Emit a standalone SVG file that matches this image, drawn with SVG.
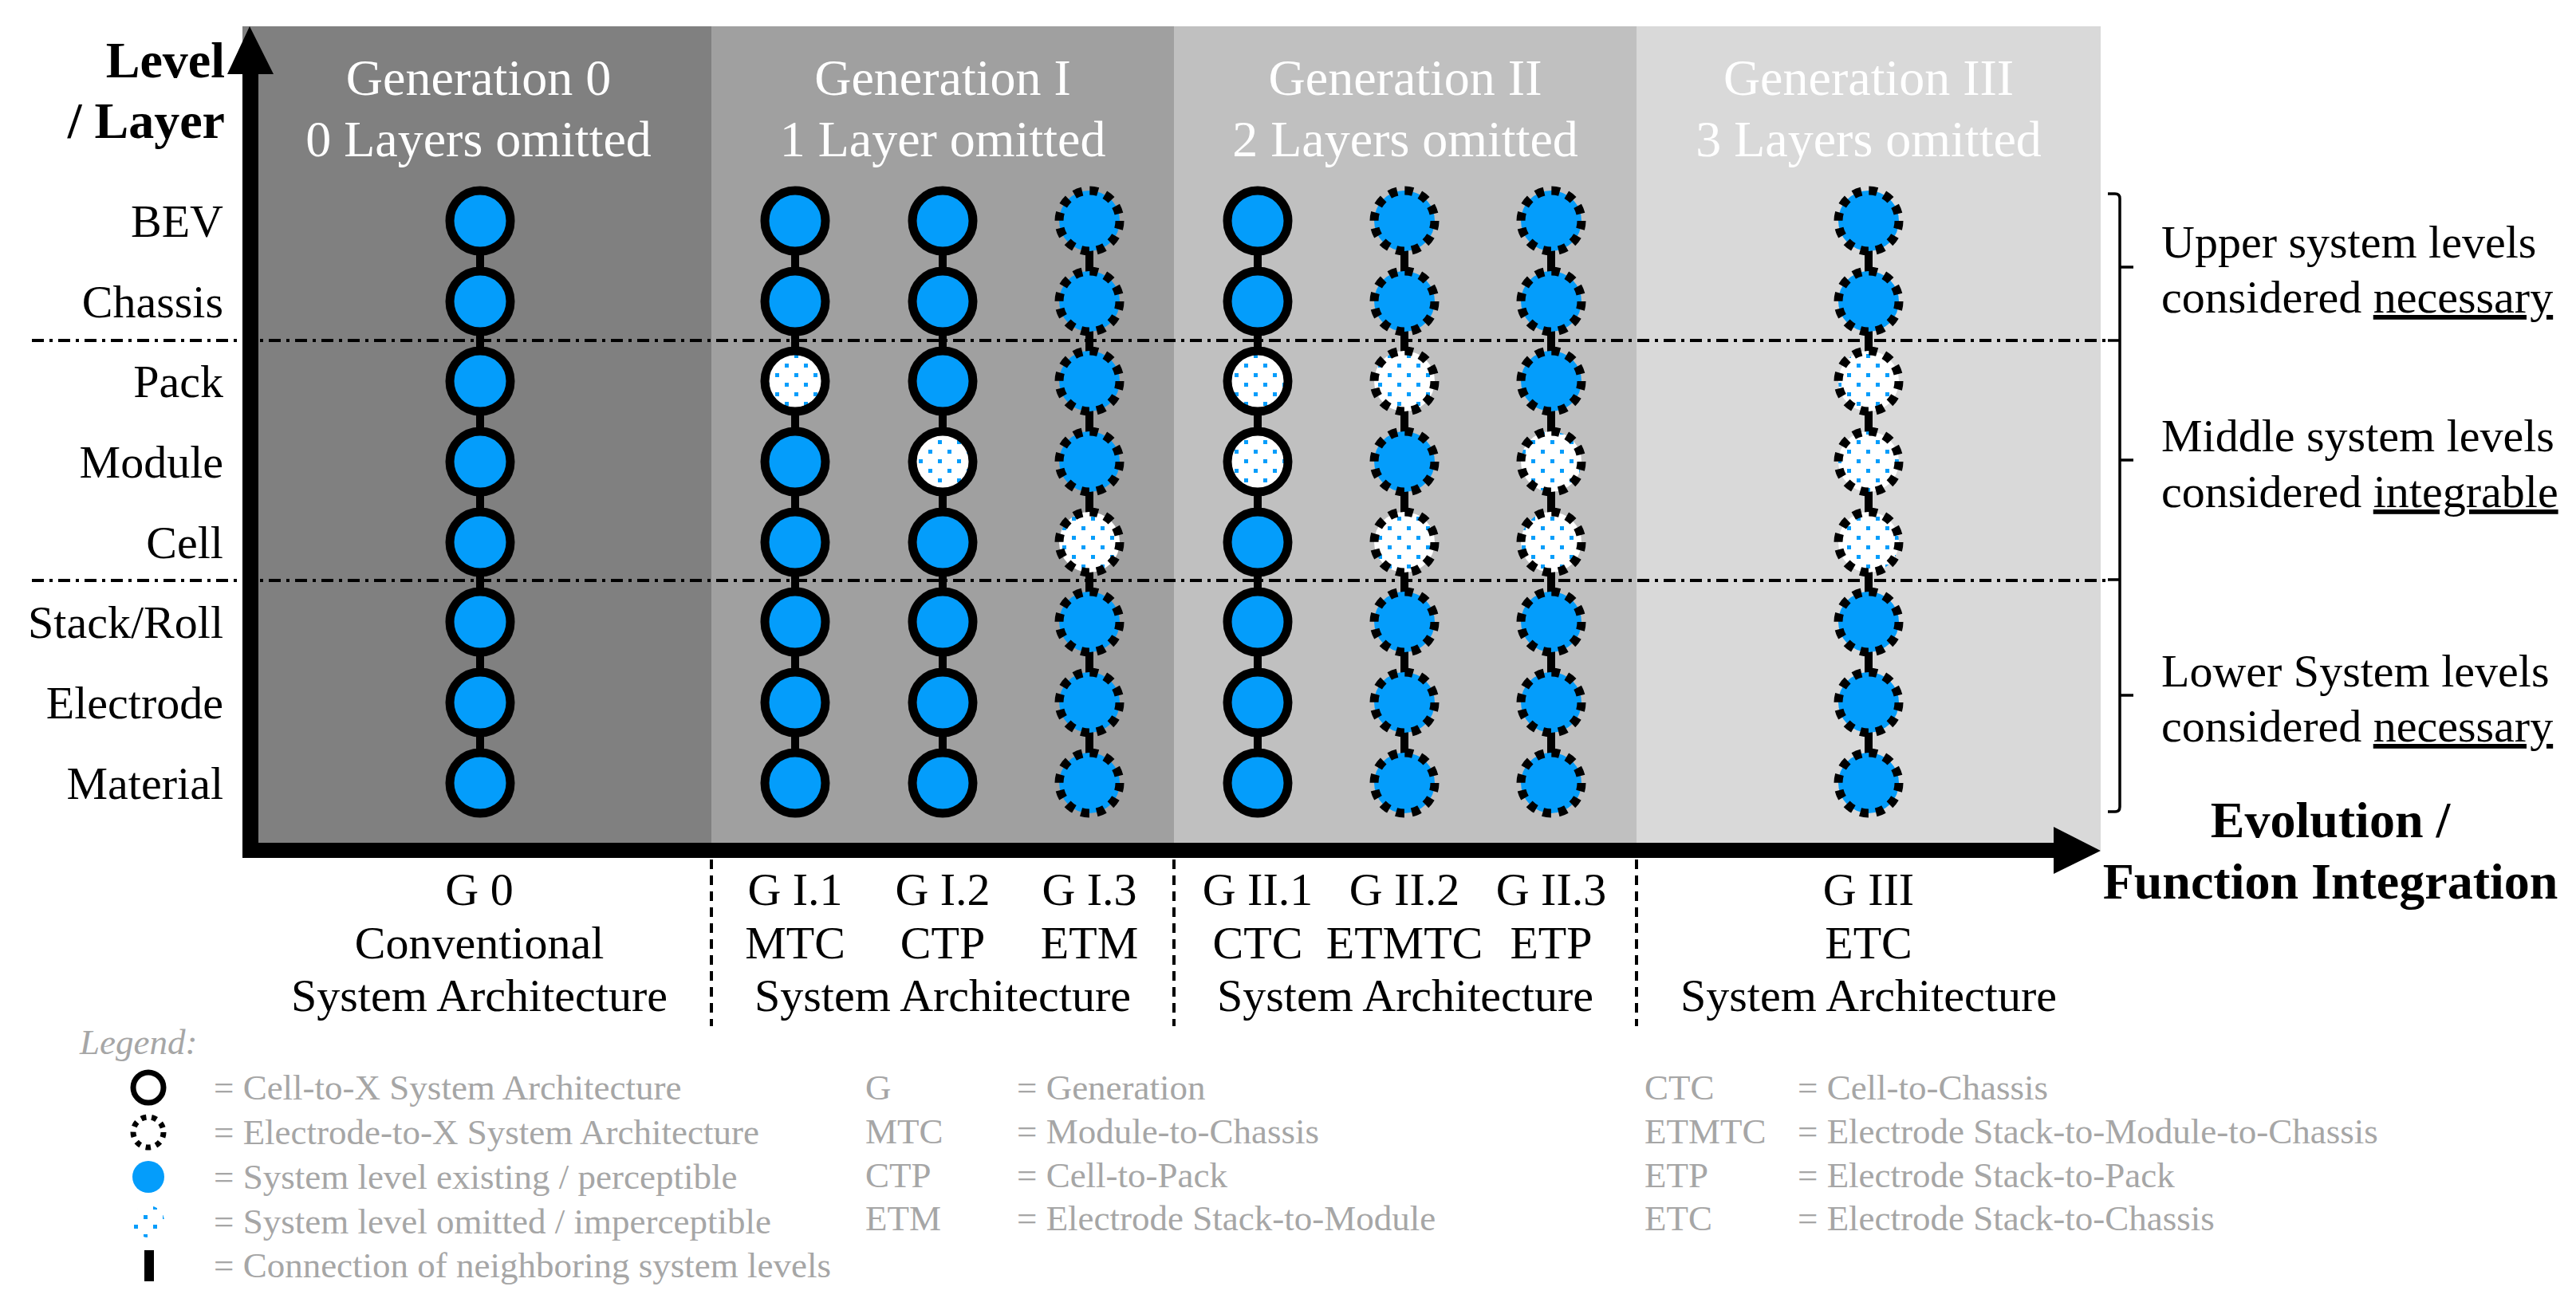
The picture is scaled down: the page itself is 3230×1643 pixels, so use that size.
<svg xmlns="http://www.w3.org/2000/svg" width="3230" height="1643" viewBox="0 0 3230 1643">
<style>
.t{font-family:"Liberation Serif","Times New Roman",serif}
.title{font-size:64px;fill:#fff;text-anchor:middle}
.lbl{font-size:58px;text-anchor:end;fill:#000}
.bl{font-size:58px;text-anchor:middle;fill:#000}
.rt{font-size:58px;fill:#000}
.bold{font-size:64px;font-weight:bold;fill:#000}
.lg{font-size:45px;fill:#a6a6a6}
.ex{fill:#049dfb}
.om{fill:url(#dots)}
.sol{stroke:#000;stroke-width:11}
.dsh{stroke:#000;stroke-width:11;stroke-dasharray:10.5 9.4}
.dd{stroke:#000;stroke-width:4;stroke-dasharray:15 7 4 7;fill:none}
.sep{stroke:#000;stroke-width:4;stroke-dasharray:12 8;fill:none}
.con{stroke:#000;stroke-width:10}
.br{stroke:#000;stroke-width:3.5;fill:none}
</style>
<defs>
<pattern id="dots" patternUnits="userSpaceOnUse" width="24" height="24">
<rect width="24" height="24" fill="#fff"/>
<rect x="0" y="0" width="5" height="5" fill="#049dfb"/>
<rect x="12" y="12" width="5" height="5" fill="#049dfb"/>
</pattern>
</defs>
<rect width="3230" height="1643" fill="#fff"/>
<g id="panels">
<rect x="304" y="33" width="588" height="1033" fill="#808080"/>
<rect x="892" y="33" width="580" height="1033" fill="#a0a0a0"/>
<rect x="1472" y="33" width="580" height="1033" fill="#c0c0c0"/>
<rect x="2052" y="33" width="582" height="1033" fill="#d9d9d9"/>
</g>
<g id="titles" class="t">
<text class="title" x="600" y="119">Generation 0</text>
<text class="title" x="600" y="196">0 Layers omitted</text>
<text class="title" x="1182" y="119">Generation I</text>
<text class="title" x="1182" y="196">1 Layer omitted</text>
<text class="title" x="1762" y="119">Generation II</text>
<text class="title" x="1762" y="196">2 Layers omitted</text>
<text class="title" x="2343" y="119">Generation III</text>
<text class="title" x="2343" y="196">3 Layers omitted</text>
</g>
<g id="boundaries">
<line class="dd" x1="40" y1="427" x2="2645" y2="427"/>
<line class="dd" x1="40" y1="728" x2="2645" y2="728"/>
</g>
<g id="axes">
<rect x="304" y="90" width="20" height="986"/>
<polygon points="313,33 343,93 285,93"/>
<rect x="304" y="1057" width="2274" height="19"/>
<polygon points="2634,1067 2575,1037 2575,1096"/>
</g>
<g id="axis-labels" class="t">
<text class="bold" x="282" y="97" text-anchor="end">Level</text>
<text class="bold" x="282" y="173" text-anchor="end">/ Layer</text>
<text class="bold" x="2922" y="1050" text-anchor="middle">Evolution /</text>
<text class="bold" x="2922" y="1127" text-anchor="middle">Function Integration</text>
</g>
<g id="row-labels" class="t">
<text class="lbl" x="280" y="297">BEV</text>
<text class="lbl" x="280" y="398">Chassis</text>
<text class="lbl" x="280" y="498">Pack</text>
<text class="lbl" x="280" y="599">Module</text>
<text class="lbl" x="280" y="700">Cell</text>
<text class="lbl" x="280" y="800">Stack/Roll</text>
<text class="lbl" x="280" y="901">Electrode</text>
<text class="lbl" x="280" y="1002">Material</text>
</g>
<g id="connectors">
<line class="con" x1="602" y1="277" x2="602" y2="982"/>
<line class="con" x1="997" y1="277" x2="997" y2="982"/>
<line class="con" x1="1182" y1="277" x2="1182" y2="982"/>
<line class="con" x1="1366" y1="277" x2="1366" y2="982"/>
<line class="con" x1="1577" y1="277" x2="1577" y2="982"/>
<line class="con" x1="1761" y1="277" x2="1761" y2="982"/>
<line class="con" x1="1945" y1="277" x2="1945" y2="982"/>
<line class="con" x1="2343" y1="277" x2="2343" y2="982"/>
</g>
<g id="col-g0">
<circle id="g0-bev" class="ex sol" cx="602" cy="277" r="38"/>
<circle id="g0-chassis" class="ex sol" cx="602" cy="378" r="38"/>
<circle id="g0-pack" class="ex sol" cx="602" cy="478" r="38"/>
<circle id="g0-module" class="ex sol" cx="602" cy="579" r="38"/>
<circle id="g0-cell" class="ex sol" cx="602" cy="680" r="38"/>
<circle id="g0-stack" class="ex sol" cx="602" cy="780" r="38"/>
<circle id="g0-electrode" class="ex sol" cx="602" cy="881" r="38"/>
<circle id="g0-material" class="ex sol" cx="602" cy="982" r="38"/>
</g>
<g id="col-gi1">
<circle id="gi1-bev" class="ex sol" cx="997" cy="277" r="38"/>
<circle id="gi1-chassis" class="ex sol" cx="997" cy="378" r="38"/>
<circle id="gi1-pack" class="om sol" cx="997" cy="478" r="38"/>
<circle id="gi1-module" class="ex sol" cx="997" cy="579" r="38"/>
<circle id="gi1-cell" class="ex sol" cx="997" cy="680" r="38"/>
<circle id="gi1-stack" class="ex sol" cx="997" cy="780" r="38"/>
<circle id="gi1-electrode" class="ex sol" cx="997" cy="881" r="38"/>
<circle id="gi1-material" class="ex sol" cx="997" cy="982" r="38"/>
</g>
<g id="col-gi2">
<circle id="gi2-bev" class="ex sol" cx="1182" cy="277" r="38"/>
<circle id="gi2-chassis" class="ex sol" cx="1182" cy="378" r="38"/>
<circle id="gi2-pack" class="ex sol" cx="1182" cy="478" r="38"/>
<circle id="gi2-module" class="om sol" cx="1182" cy="579" r="38"/>
<circle id="gi2-cell" class="ex sol" cx="1182" cy="680" r="38"/>
<circle id="gi2-stack" class="ex sol" cx="1182" cy="780" r="38"/>
<circle id="gi2-electrode" class="ex sol" cx="1182" cy="881" r="38"/>
<circle id="gi2-material" class="ex sol" cx="1182" cy="982" r="38"/>
</g>
<g id="col-gi3">
<circle id="gi3-bev" class="ex dsh" cx="1366" cy="277" r="38"/>
<circle id="gi3-chassis" class="ex dsh" cx="1366" cy="378" r="38"/>
<circle id="gi3-pack" class="ex dsh" cx="1366" cy="478" r="38"/>
<circle id="gi3-module" class="ex dsh" cx="1366" cy="579" r="38"/>
<circle id="gi3-cell" class="om dsh" cx="1366" cy="680" r="38"/>
<circle id="gi3-stack" class="ex dsh" cx="1366" cy="780" r="38"/>
<circle id="gi3-electrode" class="ex dsh" cx="1366" cy="881" r="38"/>
<circle id="gi3-material" class="ex dsh" cx="1366" cy="982" r="38"/>
</g>
<g id="col-gii1">
<circle id="gii1-bev" class="ex sol" cx="1577" cy="277" r="38"/>
<circle id="gii1-chassis" class="ex sol" cx="1577" cy="378" r="38"/>
<circle id="gii1-pack" class="om sol" cx="1577" cy="478" r="38"/>
<circle id="gii1-module" class="om sol" cx="1577" cy="579" r="38"/>
<circle id="gii1-cell" class="ex sol" cx="1577" cy="680" r="38"/>
<circle id="gii1-stack" class="ex sol" cx="1577" cy="780" r="38"/>
<circle id="gii1-electrode" class="ex sol" cx="1577" cy="881" r="38"/>
<circle id="gii1-material" class="ex sol" cx="1577" cy="982" r="38"/>
</g>
<g id="col-gii2">
<circle id="gii2-bev" class="ex dsh" cx="1761" cy="277" r="38"/>
<circle id="gii2-chassis" class="ex dsh" cx="1761" cy="378" r="38"/>
<circle id="gii2-pack" class="om dsh" cx="1761" cy="478" r="38"/>
<circle id="gii2-module" class="ex dsh" cx="1761" cy="579" r="38"/>
<circle id="gii2-cell" class="om dsh" cx="1761" cy="680" r="38"/>
<circle id="gii2-stack" class="ex dsh" cx="1761" cy="780" r="38"/>
<circle id="gii2-electrode" class="ex dsh" cx="1761" cy="881" r="38"/>
<circle id="gii2-material" class="ex dsh" cx="1761" cy="982" r="38"/>
</g>
<g id="col-gii3">
<circle id="gii3-bev" class="ex dsh" cx="1945" cy="277" r="38"/>
<circle id="gii3-chassis" class="ex dsh" cx="1945" cy="378" r="38"/>
<circle id="gii3-pack" class="ex dsh" cx="1945" cy="478" r="38"/>
<circle id="gii3-module" class="om dsh" cx="1945" cy="579" r="38"/>
<circle id="gii3-cell" class="om dsh" cx="1945" cy="680" r="38"/>
<circle id="gii3-stack" class="ex dsh" cx="1945" cy="780" r="38"/>
<circle id="gii3-electrode" class="ex dsh" cx="1945" cy="881" r="38"/>
<circle id="gii3-material" class="ex dsh" cx="1945" cy="982" r="38"/>
</g>
<g id="col-giii">
<circle id="giii-bev" class="ex dsh" cx="2343" cy="277" r="38"/>
<circle id="giii-chassis" class="ex dsh" cx="2343" cy="378" r="38"/>
<circle id="giii-pack" class="om dsh" cx="2343" cy="478" r="38"/>
<circle id="giii-module" class="om dsh" cx="2343" cy="579" r="38"/>
<circle id="giii-cell" class="om dsh" cx="2343" cy="680" r="38"/>
<circle id="giii-stack" class="ex dsh" cx="2343" cy="780" r="38"/>
<circle id="giii-electrode" class="ex dsh" cx="2343" cy="881" r="38"/>
<circle id="giii-material" class="ex dsh" cx="2343" cy="982" r="38"/>
</g>
<g id="brackets">
<path class="br" d="M2643,243 H2652 Q2658,243 2658,249 V427 M2658,335 H2675 M2643,427 H2658"/>
<path class="br" d="M2658,427 V727 M2658,577 H2675 M2643,727 H2658"/>
<path class="br" d="M2658,727 V1012 Q2658,1018 2652,1018 H2643 M2658,872 H2675"/>
</g>
<g id="bracket-labels" class="t">
<text class="rt" x="2710" y="323">Upper system levels</text>
<text class="rt" x="2710" y="392">considered <tspan text-decoration="underline">necessary</tspan></text>
<text class="rt" x="2710" y="566">Middle system levels</text>
<text class="rt" x="2710" y="636">considered <tspan text-decoration="underline">integrable</tspan></text>
<text class="rt" x="2710" y="861">Lower System levels</text>
<text class="rt" x="2710" y="930">considered <tspan text-decoration="underline">necessary</tspan></text>
</g>
<g id="separators">
<line class="sep" x1="892" y1="1078" x2="892" y2="1287"/>
<line class="sep" x1="1472" y1="1078" x2="1472" y2="1287"/>
<line class="sep" x1="2052" y1="1078" x2="2052" y2="1287"/>
</g>
<g id="bottom-labels" class="t">
<text class="bl" x="601" y="1135">G 0</text>
<text class="bl" x="601" y="1202">Conventional</text>
<text class="bl" x="601" y="1268">System Architecture</text>
<text class="bl" x="997" y="1135">G I.1</text>
<text class="bl" x="997" y="1202">MTC</text>
<text class="bl" x="1182" y="1135">G I.2</text>
<text class="bl" x="1182" y="1202">CTP</text>
<text class="bl" x="1366" y="1135">G I.3</text>
<text class="bl" x="1366" y="1202">ETM</text>
<text class="bl" x="1182" y="1268">System Architecture</text>
<text class="bl" x="1577" y="1135">G II.1</text>
<text class="bl" x="1577" y="1202">CTC</text>
<text class="bl" x="1761" y="1135">G II.2</text>
<text class="bl" x="1761" y="1202">ETMTC</text>
<text class="bl" x="1945" y="1135">G II.3</text>
<text class="bl" x="1945" y="1202">ETP</text>
<text class="bl" x="1762" y="1268">System Architecture</text>
<text class="bl" x="2343" y="1135">G III</text>
<text class="bl" x="2343" y="1202">ETC</text>
<text class="bl" x="2343" y="1268">System Architecture</text>
</g>
<g id="legend">
<text class="t lg" x="100" y="1322" font-style="italic">Legend:</text>
<circle cx="186" cy="1364" r="19" fill="none" stroke="#000" stroke-width="7"/>
<circle cx="186" cy="1420" r="19" fill="none" stroke="#000" stroke-width="7" stroke-dasharray="6.5 6.8"/>
<circle cx="186" cy="1476" r="20" fill="#049dfb"/>
<circle cx="186" cy="1532" r="20" fill="url(#dots)"/>
<rect x="181" y="1568" width="12" height="39" fill="#000"/>
<g class="t lg">
<text x="268" y="1379">= Cell-to-X System Architecture</text>
<text x="268" y="1435">= Electrode-to-X System Architecture</text>
<text x="268" y="1491">= System level existing / perceptible</text>
<text x="268" y="1547">= System level omitted / imperceptible</text>
<text x="268" y="1602">= Connection of neighboring system levels</text>
<text x="1085" y="1379">G</text>
<text x="1275" y="1379">= Generation</text>
<text x="1085" y="1434">MTC</text>
<text x="1275" y="1434">= Module-to-Chassis</text>
<text x="1085" y="1489">CTP</text>
<text x="1275" y="1489">= Cell-to-Pack</text>
<text x="1085" y="1543">ETM</text>
<text x="1275" y="1543">= Electrode Stack-to-Module</text>
<text x="2062" y="1379">CTC</text>
<text x="2254" y="1379">= Cell-to-Chassis</text>
<text x="2062" y="1434">ETMTC</text>
<text x="2254" y="1434">= Electrode Stack-to-Module-to-Chassis</text>
<text x="2062" y="1489">ETP</text>
<text x="2254" y="1489">= Electrode Stack-to-Pack</text>
<text x="2062" y="1543">ETC</text>
<text x="2254" y="1543">= Electrode Stack-to-Chassis</text>
</g>
</g>
</svg>
